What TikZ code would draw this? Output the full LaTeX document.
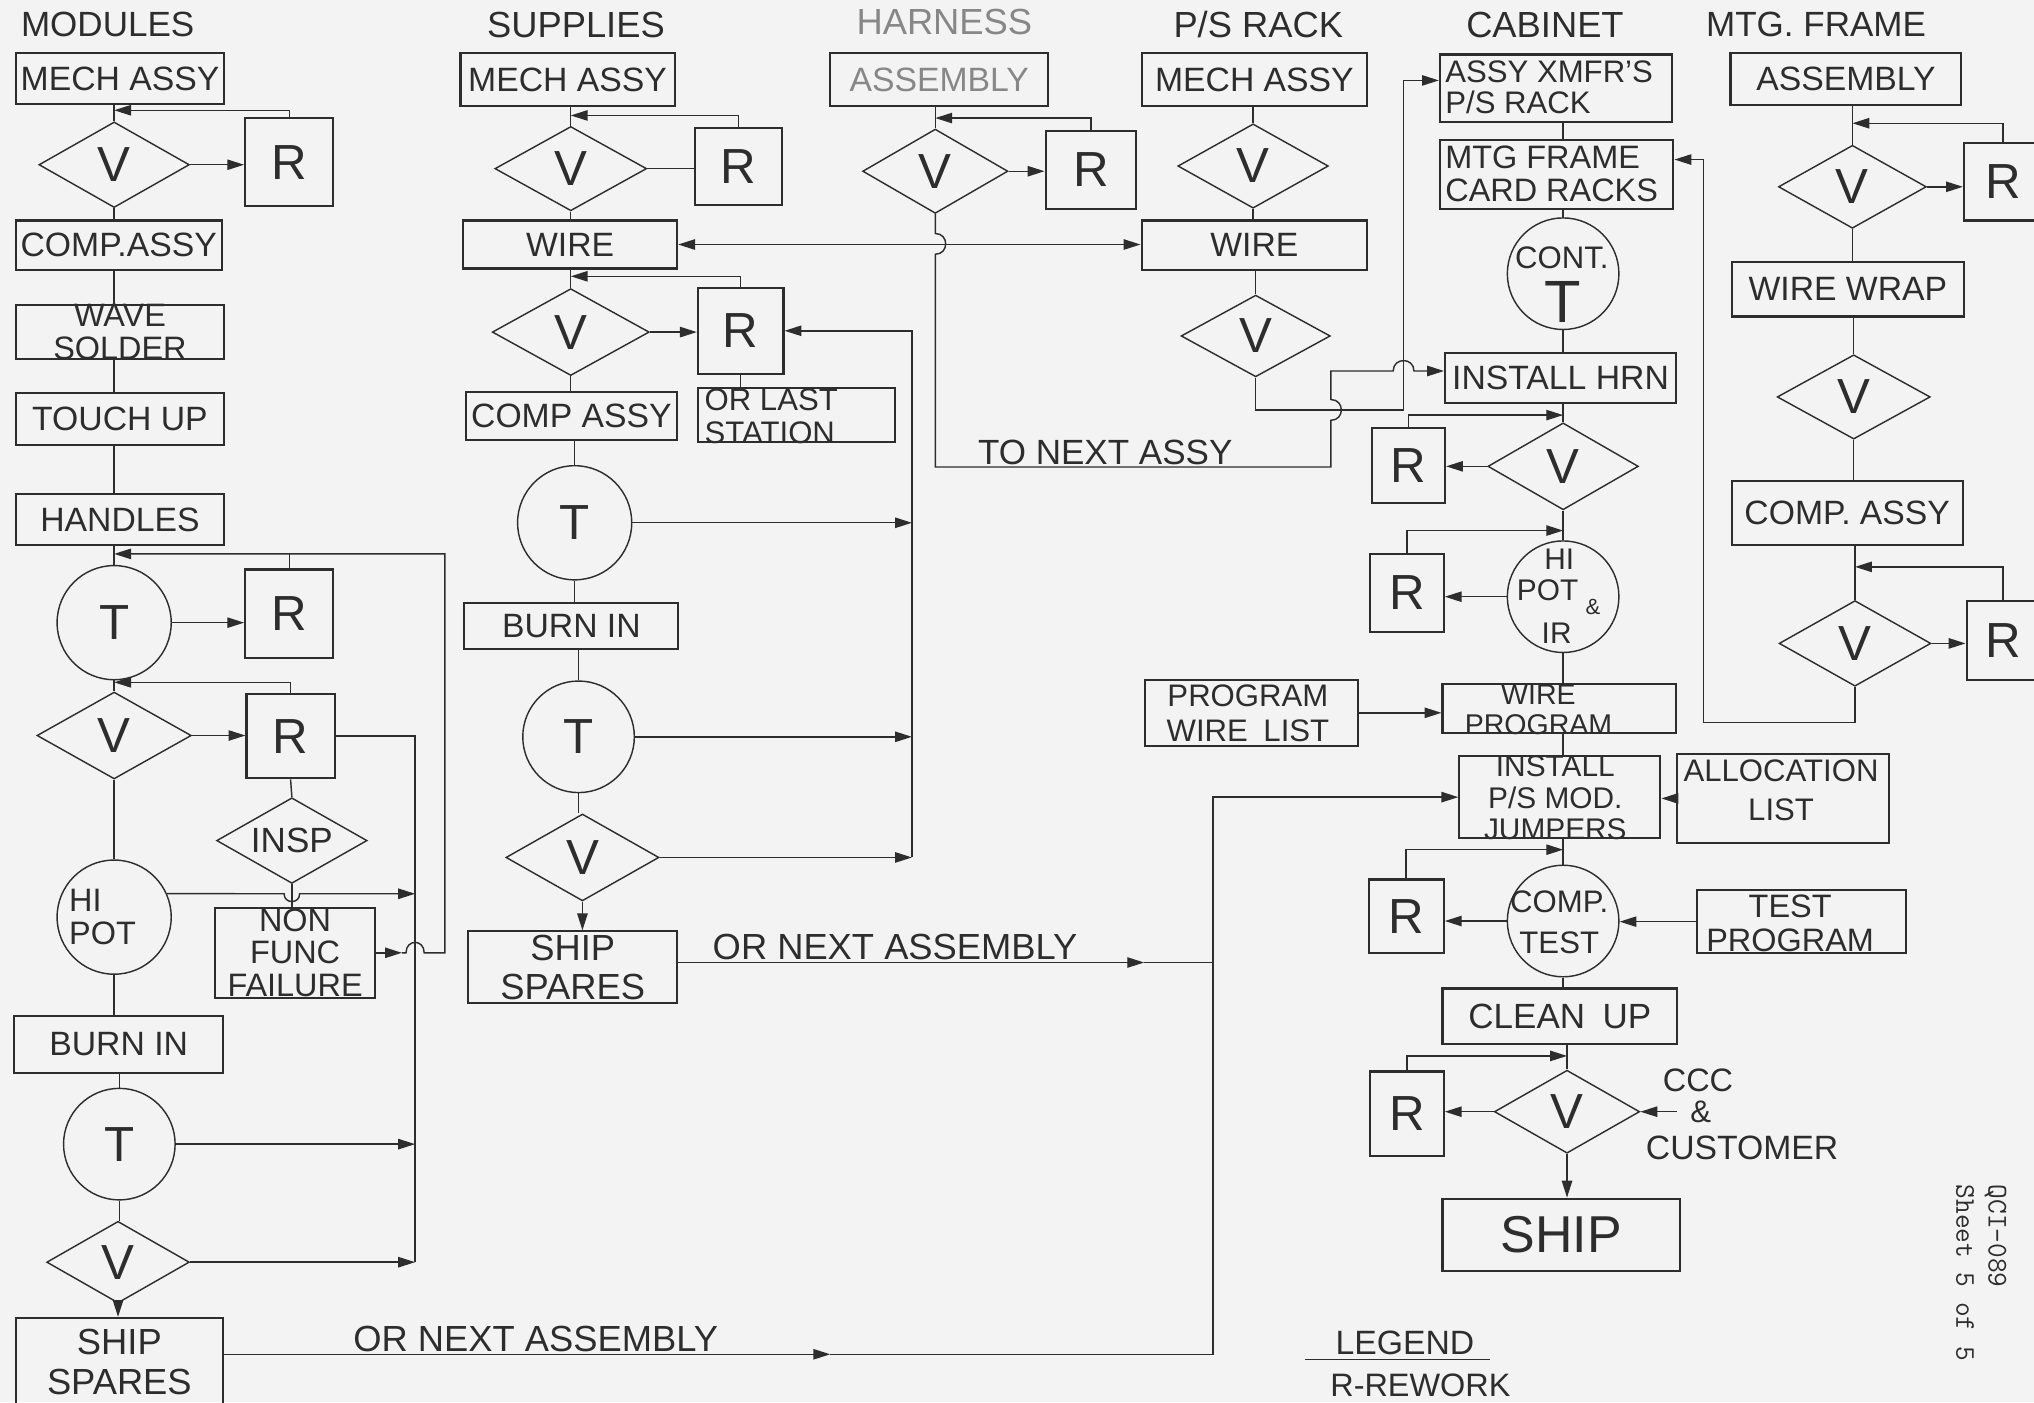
\documentclass[tikz,border=0pt]{standalone}
\usepackage{fontspec}
\setmainfont{Liberation Sans}
\usetikzlibrary{shapes.geometric,arrows.meta,calc}
\definecolor{inkc}{RGB}{45,45,45}
\definecolor{bgc}{RGB}{243,243,243}
\definecolor{fadec}{RGB}{135,135,135}
\newcommand\myfs[2]{\fontsize{#1}{#2}\selectfont}
\begin{document}
\begin{tikzpicture}[x=1pt,y=-1pt,
  sz/.style 2 args={minimum width=#1pt, minimum height=#2pt},
  box/.style={draw=inkc, line width=1.6pt, rectangle, inner sep=0pt, text=inkc, font=\myfs{26}{26}},
  rbox/.style={box, font=\myfs{38}{38}},
  dia/.style={draw=inkc, line width=1.1pt, diamond, inner sep=0pt, text=inkc, font=\myfs{38}{38}},
  circ/.style={draw=inkc, line width=1.1pt, circle, inner sep=0pt, text=inkc, font=\myfs{38}{38}},
  lbl/.style={text=inkc, inner sep=0pt, align=center},
  conn/.style={draw=inkc, line width=1.1pt},
  arr/.style={conn, -{Triangle[length=13pt,width=8pt]}},
  darr/.style={conn, {Triangle[length=13pt,width=8pt]}-{Triangle[length=13pt,width=8pt]}}
]
\fill[bgc] (0,0) rectangle (1568,1081);
\useasboundingbox (0,0) rectangle (1568,1081);

% helper coordinates
\coordinate (cx1) at (320,0);
\coordinate (cx2) at (703,0);
\coordinate (cx3) at (935,0);
\coordinate (y62) at (0,62);
\coordinate (y123) at (0,123);
\coordinate (y286) at (0,286);
\coordinate (y316) at (0,316);
\coordinate (y557) at (0,557);
\coordinate (y689) at (0,689);
\coordinate (y742) at (0,742);
\coordinate (y1044) at (0,1044);

% ================= COLUMN 1 : MODULES =================
\node[lbl, font=\myfs{27}{27}] (tmod) at (83,19) {MODULES};
\node[box, sz={161}{39}] (m1) at (92.5,60.5) {MECH ASSY};
\coordinate (j1a) at (88,85);
\node[dia, sz={116}{66}] (v1a) at (88,127) {V};
\node[rbox, sz={68}{68}] (r1a) at (223,125) {R};
\node[box, sz={159}{38}] (c1) at (91.5,189) {COMP.ASSY};
\node[box, sz={161}{42}, label={[lbl,font=\myfs{25}{26}]center:WAVE\\SOLDER}] (ws1) at (92.5,256) {};
\node[box, sz={161}{40}] (tu1) at (92.5,323) {TOUCH UP};
\node[box, sz={161}{39}] (h1) at (92.5,400.5) {HANDLES};
\coordinate (j1b) at (88,427);
\node[circ, minimum size=88pt] (t1a) at (88,480) {T};
\node[rbox, sz={68}{68}] (r1b) at (223,473) {R};
\coordinate (j1c) at (88,526);
\node[dia, sz={119}{67}] (v1b) at (88,567) {V};
\node[rbox, sz={68}{65}] (r1c) at (224,567.5) {R};
\node[dia, sz={116}{66}, label={[lbl,font=\myfs{27}{27}]center:INSP}] (insp) at (225,648) {};
\node[circ, minimum size=88pt, label={[lbl,align=left,font=\myfs{25}{26},xshift=-9pt]center:HI\\POT}] (hp1) at (88,707) {};
\node[box, sz={123}{69}, label={[lbl,font=\myfs{25}{25}]center:NON\\FUNC\\FAILURE}] (nf) at (227.5,734.5) {};
\node[box, sz={161}{44}] (bi1) at (91.5,805) {BURN IN};
\node[circ, minimum size=86pt] (t1b) at (92,882) {T};
\node[dia, sz={110}{63}] (v1c) at (91,973) {V};
\node[box, sz={160}{68}, label={[lbl,font=\myfs{28}{31}]center:SHIP\\SPARES}] (ss1) at (92,1050) {};

\draw[conn] (m1.south -| v1a) -- (v1a.north);
\draw[arr] (r1a.north) |- (j1a);
\draw[arr] (v1a.east) -- (v1a.east -| r1a.west);
\draw[conn] (v1a.south) -- (v1a.south |- c1.north);
\draw[conn] (c1.south -| v1a) -- (ws1.north -| v1a);
\draw[conn] (ws1.south -| v1a) -- (tu1.north -| v1a);
\draw[conn] (tu1.south -| v1a) -- (h1.north -| v1a);
\draw[conn] (h1.south -| t1a) -- (t1a.north);
\draw[conn] (r1b.north) -- (r1b.north |- j1b);
\draw[arr] (t1a.east) -- (t1a.east -| r1b.west);
\draw[conn] (t1a.south) -- (t1a.south |- v1b.north);
\draw[arr] (r1c.north) |- (j1c);
\draw[arr] (v1b.east) -- (v1b.east -| r1c.west);
\draw[conn] (r1c.east) -- (r1c.east -| cx1) -- (v1c.east -| cx1);
\draw[conn] (r1c.south) -- (insp.north);
\draw[conn] (insp.south) -- (insp.south |- nf.north);
\draw[conn] (v1b.south) -- (v1b.south |- hp1.north);
\draw[arr] (hp1.24) -- (219,689) .. controls (219,697) and (231,697) .. (231,689) -- (cx1 |- y689);
\coordinate (nfa) at ($(nf.east)+(20,0)$);
\draw[arr] (nf.east) -- (nfa);
\draw[arr] (nfa) -- (313,734.5) .. controls (313,723.8) and (327,723.8) .. (327,734.5) -- (343,734.5) -- (343,427) -- (j1b);
\draw[conn] (hp1.south) -- (hp1.south |- bi1.north);
\draw[conn] (bi1.south -| t1b) -- (t1b.north);
\draw[arr] (t1b.east) -- (t1b.east -| cx1);
\draw[conn] (t1b.south) -- (t1b.south |- v1c.north);
\draw[arr] (v1c.east) -- (v1c.east -| cx1);
\draw[arr] (v1c.south) -- (v1c.south |- ss1.north);

% ================= COLUMN 2 : POWER SUPPLIES =================
\node[lbl, font=\myfs{28}{28}] (tsup) at (444,19) {SUPPLIES};
\node[box, sz={165}{41}] (m2) at (437.5,61.5) {MECH ASSY};
\coordinate (j2a) at (440,89);
\node[dia, sz={117}{65}] (v2a) at (440,130) {V};
\node[rbox, sz={67}{59}] (r2a) at (569.5,128.5) {R};
\node[box, sz={165}{37}] (w2) at (439.5,188.5) {WIRE};
\coordinate (j2b) at (440,213);
\node[dia, sz={121}{67}] (v2b) at (440,256) {V};
\node[rbox, sz={66}{66}] (r2b) at (571,255) {R};
\node[box, sz={163}{37}] (ca2) at (440.5,320.5) {COMP ASSY};
\node[box, sz={152}{42}] (ols) at (614,320) {};
\node[lbl, align=left, anchor=west, font=\myfs{24}{25}] (olst) at (543,321) {OR LAST\\STATION};
\node[circ, minimum size=88pt] (t2a) at (443,403) {T};
\node[box, sz={165}{35}] (bi2) at (440.5,482.5) {BURN IN};
\node[circ, minimum size=86pt] (t2b) at (446,568) {T};
\node[dia, sz={118}{67}] (v2c) at (449,661) {V};
\node[box, sz={161}{55}, label={[lbl,font=\myfs{28}{30}]center:SHIP\\SPARES}] (ss2) at (441.5,745.5) {};

\draw[conn] (m2.south -| v2a) -- (v2a.north);
\draw[arr] (r2a.north) |- (j2a);
\draw[conn] (v2a.east) -- (v2a.east -| r2a.west);
\draw[conn] (v2a.south) -- (v2a.south |- w2.north);
\draw[conn] (w2.south -| v2b) -- (v2b.north);
\draw[arr] (r2b.north) |- (j2b);
\draw[arr] (v2b.east) -- (v2b.east -| r2b.west);
\draw[conn] (r2b.south) -- (r2b.south |- ols.north);
\draw[conn] (v2b.south) -- (v2b.south |- ca2.north);
\draw[conn] (ca2.south -| t2a) -- (t2a.north);
\draw[arr] (t2a.east) -- (t2a.east -| cx2);
\draw[conn] (t2a.south) -- (t2a.south |- bi2.north);
\draw[conn] (bi2.south -| t2b) -- (t2b.north);
\draw[arr] (t2b.east) -- (t2b.east -| cx2);
\draw[conn] (t2b.south) -- (t2b.south |- v2c.north);
\draw[arr] (v2c.east) -- (v2c.east -| cx2);
\draw[arr] (v2c.east -| cx2) -- (cx2 |- r2b.east) -- (r2b.east);
\draw[arr] (v2c.south) -- (v2c.south |- ss2.north);
\draw[arr] (ss2.east |- y742) -- (882,742);
\draw[conn] (882,742) -- (cx3 |- y742);

% ================= HARNESS =================
\node[lbl, font=\myfs{28}{28}, text=fadec] (thar) at (728,17) {HARNESS};
\node[box, sz={168}{41}, text=fadec] (a3) at (724,61.5) {ASSEMBLY};
\coordinate (j3) at (721,91);
\node[dia, sz={112}{65}] (v3) at (721,132) {V};
\node[rbox, sz={70}{60}] (r3) at (841,131) {R};
\draw[conn] (a3.south -| v3) -- (v3.north);
\draw[arr] (r3.north) |- (j3);
\draw[arr] (v3.east) -- (v3.east -| r3.west);
\node[lbl, font=\myfs{27}{27}] (tna) at (852,349) {TO NEXT ASSY};

% ================= P/S RACK =================
\node[lbl, font=\myfs{28}{28}] (tps) at (970,19) {P/S RACK};
\node[box, sz={174}{41}] (m4) at (967,61.5) {MECH ASSY};
\node[dia, sz={116}{65}] (v4a) at (966,128) {V};
\node[box, sz={174}{38}] (w4) at (967,189) {WIRE};
\node[dia, sz={115}{63}] (v4b) at (968,259) {V};
\draw[conn] (m4.south -| v4a) -- (v4a.north);
\draw[conn] (v4a.south) -- (v4a.south |- w4.north);
\draw[conn] (w4.south -| v4b) -- (v4b.north);

% ================= CABINET =================
\node[lbl, font=\myfs{28}{28}] (tcab) at (1191,19) {CABINET};
\node[box, sz={179}{52}] (ax) at (1199.5,68) {};
\node[lbl, anchor=west, align=left, font=\myfs{24}{24}] (axt) at (1114,67) {ASSY XMFR'S\\P/S RACK};
\node[box, sz={180}{53}] (mf) at (1200,134.5) {};
\node[lbl, anchor=west, align=left, font=\myfs{25}{25}] (mft) at (1114,134) {MTG FRAME\\CARD RACKS};
\node[circ, minimum size=86pt] (ct) at (1205,211) {};
\node[lbl, font=\myfs{24}{24}] (ctt1) at (1204,199) {CONT.};
\node[lbl, font=\myfs{46}{46}] (ctt2) at (1205,233) {T};
\node[box, sz={178}{39}] (ihrn) at (1203,291.5) {INSTALL HRN};
\coordinate (j5a) at (1205,320);
\node[dia, sz={116}{67}] (v5a) at (1205,359.5) {V};
\node[rbox, sz={56}{58}] (r5a) at (1086,359) {R};
\coordinate (j5b) at (1205,409);
\node[circ, minimum size=86pt] (hp5) at (1205,460) {};
\node[lbl, font=\myfs{23}{23}] (hpa) at (1202,431) {HI};
\node[lbl, font=\myfs{23}{23}] (hpb) at (1193,455) {POT};
\node[lbl, font=\myfs{17}{17}] (hpc) at (1228,468) {\&};
\node[lbl, font=\myfs{23}{23}] (hpd) at (1200,488) {IR};
\node[rbox, sz={57}{60}] (r5b) at (1084.5,457) {R};
\node[box, sz={180}{38}] (wp) at (1202,546) {};
\node[lbl, font=\myfs{22}{23}] (wpt) at (1186,547) {WIRE\\PROGRAM};
\node[box, sz={164}{51}] (pwl) at (965,549.5) {};
\node[lbl, font=\myfs{24}{27}] (pwlt) at (962,550) {PROGRAM\\WIRE\enspace LIST};
\node[box, sz={155}{63}] (ins) at (1202.5,614.5) {};
\node[lbl, font=\myfs{23}{24}] (inst) at (1199,615) {INSTALL\\P/S MOD.\\JUMPERS};
\node[box, sz={163}{69}] (alloc) at (1374.5,615.5) {};
\node[lbl, font=\myfs{24}{30}] (alloct) at (1373,609) {ALLOCATION\\LIST};
\coordinate (j5c) at (1205,655);
\node[circ, minimum size=86pt] (ctst) at (1205,710) {};
\node[lbl, font=\myfs{24}{31}] (ctstt) at (1202,711) {COMP.\\TEST};
\node[rbox, sz={58}{57}] (r5c) at (1084,706.5) {R};
\node[box, sz={161}{49}] (tp) at (1388.5,710.5) {};
\node[lbl, font=\myfs{25}{26}] (tpt) at (1380,712) {TEST\\PROGRAM};
\node[box, sz={181}{43}, font=\myfs{27}{27}] (cu) at (1202.5,783.5) {CLEAN\enspace UP};
\coordinate (j5d) at (1208,814);
\node[dia, sz={112}{64}] (v5b) at (1208,857) {V};
\node[rbox, sz={57}{65}] (r5d) at (1084.5,858.5) {R};
\node[box, sz={183}{56}, font=\myfs{40}{40}] (ship) at (1203.5,952) {SHIP};
\node[lbl, font=\myfs{25}{25}] (ccc) at (1309,833) {CCC};
\node[lbl, font=\myfs{24}{24}] (amp) at (1311,857) {\&};
\node[lbl, font=\myfs{26}{26}] (cust) at (1343,885) {CUSTOMER};

\draw[conn] (ax.south -| ct) -- (mf.north -| ct);
\draw[conn] (mf.south -| ct) -- (ct.north);
\draw[conn] (ct.south) -- (ct.south |- ihrn.north);
\draw[conn] (ihrn.south -| v5a) -- (v5a.north);
\draw[arr] (r5a.north) |- (j5a);
\draw[arr] (v5a.west) -- (v5a.west -| r5a.east);
\draw[conn] (v5a.south) -- (v5a.south |- hp5.north);
\draw[arr] (r5b.north) |- (j5b);
\draw[arr] (hp5.west) -- (hp5.west -| r5b.east);
\draw[conn] (hp5.south) -- (hp5.south |- wp.north);
\draw[arr] (pwl.east) -- (pwl.east -| wp.west);
\draw[conn] (wp.south -| hp5) -- (ins.north -| hp5);
\draw[arr] (alloc.west) -- (alloc.west -| ins.east);
\draw[conn] (ins.south -| ctst) -- (ctst.north);
\draw[arr] (r5c.north) |- (j5c);
\draw[arr] (ctst.west) -- (ctst.west -| r5c.east);
\draw[arr] (tp.west) -- (tp.west -| ctst.east);
\draw[conn] (ctst.south) -- (ctst.south |- cu.north);
\draw[conn] (cu.south -| v5b) -- (v5b.north);
\draw[arr] (r5d.north) |- (j5d);
\draw[arr] (v5b.west) -- (v5b.west -| r5d.east);
\draw[arr] (v5b.south) -- (v5b.south |- ship.north);
\draw[arr] ([xshift=-10pt]amp.west) -- (v5b.east);

% ================= MTG. FRAME =================
\node[lbl, font=\myfs{27}{27}] (tmtg) at (1400,19) {MTG. FRAME};
\node[box, sz={178}{40}] (a6) at (1423,61) {ASSEMBLY};
\coordinate (j6a) at (1428,95);
\node[dia, sz={114}{64}] (v6a) at (1428,144) {V};
\node[rbox, sz={60}{60}] (r6a) at (1544,140) {R};
\node[box, sz={179}{42}] (ww) at (1424.5,223) {WIRE WRAP};
\node[dia, sz={118}{65}] (v6b) at (1429,306) {V};
\node[box, sz={178}{49}] (ca6) at (1424,395.5) {COMP. ASSY};
\coordinate (j6b) at (1430,437);
\node[dia, sz={117}{66}] (v6c) at (1430,496) {V};
\node[rbox, sz={56}{61}] (r6b) at (1544,493.5) {R};
\draw[conn] (a6.south -| v6a) -- (v6a.north);
\draw[arr] (r6a.north) |- (j6a);
\draw[arr] (v6a.east) -- (v6a.east -| r6a.west);
\draw[conn] (v6a.south) -- (v6a.south |- ww.north);
\draw[conn] (ww.south -| v6b) -- (v6b.north);
\draw[conn] (v6b.south) -- (v6b.south |- ca6.north);
\draw[conn] (ca6.south -| v6c) -- (v6c.north);
\draw[arr] (r6b.north) |- (j6b);
\draw[arr] (v6c.east) -- (v6c.east -| r6b.west);
\draw[arr] (v6c.south) -- (v6c.south |- y557) -- (1313,557) -- (1313,123) -- (mf.east |- y123);

% ================= CROSS-COLUMN CONNECTORS =================
\draw[arr] (ss1.east |- y1044) -- (640,1044);
\draw[arr] (640,1044) -- (cx3 |- y1044) -- (cx3 |- ins.west) -- (ins.west);
\draw[darr] (w2.east) -- (w4.west |- w2.east);
\draw[arr] (v3.south) -- (721,180) .. controls (731.7,180) and (731.7,196) .. (721,196)
  -- (721,360) -- (1026,360) -- (1026,324) .. controls (1036.7,324) and (1036.7,308) .. (1026,308)
  -- (1026,286) -- (1074,286) .. controls (1074,275.3) and (1090,275.3) .. (1090,286) -- (ihrn.west |- y286);
\draw[arr] (v4b.south) -- (v4b.south |- y316) -- (1082,316) -- (1082,62) -- (ax.west |- y62);

% ================= LABELS =================
\node[lbl, font=\myfs{28}{28}] (onx1) at (690,730) {OR NEXT ASSEMBLY};
\node[lbl, font=\myfs{28}{28}] (onx2) at (413,1032) {OR NEXT ASSEMBLY};
\node[lbl, font=\myfs{26}{26}] (leg) at (1083,1035) {LEGEND};
\draw[conn] (1006,1048) -- (1149,1048);
\node[lbl, font=\myfs{25}{25}] (rew) at (1095,1068) {R-REWORK};
\node[lbl, rotate=-90, anchor=north west, align=left, font=\ttfamily\myfs{22}{25}] (qci) at (1547,913) {QCI-089\\Sheet 5 of 5};
\end{tikzpicture}
\end{document}
